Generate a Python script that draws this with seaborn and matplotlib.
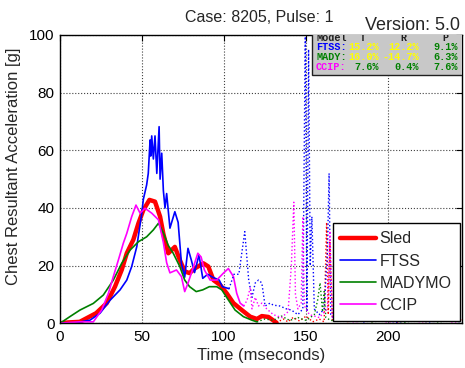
import numpy as np
import pandas as pd
import matplotlib
matplotlib.use("Agg")
import matplotlib.pyplot as plt
from matplotlib.lines import Line2D
from matplotlib.patches import Rectangle
import seaborn as sns

# Sled (test) curve
sled_t = [0, 5, 12, 16, 22, 28.5, 33.5, 37.6, 40.7, 44.7, 47.8, 50.8, 54.5, 57.9, 61, 63,
          66, 70, 73, 76, 79, 82, 87.4, 90.4, 93.5, 97.6, 101.6, 105.7, 110.8, 115.9, 120,
          123, 127, 132]
sled_g = [0, 0.3, 0.5, 1.7, 3.5, 7, 12.7, 18.5, 24.3, 29, 34.7, 39.3, 42.8, 42.2, 37, 31,
          24.3, 26.5, 22, 18, 17.4, 19, 20.8, 19.7, 15, 13.3, 10.4, 7, 4.6, 2.3, 1.5,
          2.5, 2.2, 0.2]
sled_tail_t = [132, 136, 139, 142, 146, 150, 154, 158, 161, 162.5, 163.5, 164.5, 166, 170,
               176, 182, 190, 198, 206, 214, 222, 230, 238, 245]
sled_tail_g = [0.2, 1.5, 0.5, 2.0, 0.8, 2.5, 0.5, 1.5, 0.5, 35, 3, 28, 0.5, 1.5,
               0.5, 1.8, 0.6, 1.5, 0.4, 1.6, 0.5, 1.4, 0.6, 1.2]

# FTSS model
ftss_t = [0, 10, 18.3, 24.4, 30.5, 36.6, 40.7, 43.7, 46.8, 49.8, 50.8, 52.8, 53.8, 54.9,
          55.3, 55.9, 56.9, 57.9, 59, 60.4, 61, 62, 63, 64, 65, 67, 70, 72, 74, 76, 78,
          80, 82, 84.7, 87, 90, 93, 97, 99, 103]
ftss_g = [0, 0.2, 1.1, 3.5, 8, 11.6, 15, 19.7, 26.6, 38, 43, 48, 52, 63.6, 58, 65, 57,
          65, 52, 68.2, 50, 59, 46, 40, 45, 33, 38.7, 35, 20.8, 16, 26, 22, 17.6, 23.7,
          15.6, 17, 16, 15, 12.7, 12]
ftss_tail_t = [103, 106, 109, 112.6, 114, 115, 117, 119, 121, 123, 125, 128, 130, 134,
               138, 141, 145, 148, 149.5, 150.5, 151.5, 152.5, 153.5, 155, 158, 161, 163,
               164, 165, 168, 175, 185, 195, 205, 215, 225, 235, 245]
ftss_tail_g = [12, 17, 17, 31.8, 22, 15, 9, 14, 15, 14, 6, 7, 6.3, 6, 5, 4.6, 3, 5,
               102, 4, 95, 20, 37, 5, 3, 5, 25, 52, 3, 1, 1.5, 0.5, 1.2, 0.4, 1.0, 0.5,
               1.1, 0.5]

# MADYMO model
mady_t = [0, 6, 12.2, 20.3, 26.4, 32.5, 37.6, 42.7, 47.8, 52.8, 56.9, 60, 63, 66, 69, 73,
          76, 79, 83, 87, 91, 95.5, 98.6, 102.6, 106.7, 111.8, 116.9, 120]
mady_g = [0, 2.3, 4.6, 6.9, 9.8, 15, 20.8, 25.4, 28.3, 30, 32.4, 34.7, 31.4, 27, 24.3,
          19.7, 15, 12.7, 11, 11.6, 12.7, 12.7, 11.6, 8.1, 4.6, 2.3, 1.1, 0.5]
mady_tail_t = [120, 125, 130, 135, 140, 145, 150, 155, 157, 158.5, 160, 161, 162, 165,
               172, 180, 190, 200, 210, 220, 230, 240, 245]
mady_tail_g = [0.5, 1.5, 1, 2.5, 1, 2, 1, 3, 8, 14, 4, 11, 2, 1, 0.8, 1.5, 0.5, 1.2,
               0.4, 1.3, 0.5, 1.0, 0.5]

# CCIP model
ccip_t = [0, 6, 12, 20.3, 25.4, 29.5, 32.5, 35.6, 38.6, 40.7, 43.7, 46.3, 48.8, 51.8,
          55.9, 60, 63, 65, 67, 71, 74, 76, 78, 81, 84, 86, 88, 91.5, 95.5, 99.6, 102.6,
          105.7, 107.7, 109.8, 112]
ccip_g = [0, 0.3, 0.5, 0.5, 4.6, 10.4, 16.2, 22, 27.8, 31.2, 37, 41, 38.2, 39.9, 38.2,
          35.9, 28, 21, 17.5, 18.5, 16.2, 11, 13.9, 19, 24.3, 23, 18.5, 15, 15, 17.4, 19,
          16.2, 10.4, 7, 6]
ccip_tail_t = [112, 114, 116, 117, 119, 121, 123, 126, 130, 135, 139, 141, 142.5, 143.5,
               145, 147, 148, 149, 152, 158, 163, 164.5, 166, 170, 180, 190, 200, 210,
               220, 230, 240, 245]
ccip_tail_g = [6, 8, 12.5, 5, 9, 6, 7, 5, 3, 2, 4, 20, 42, 10, 5, 7, 37, 6, 3, 2, 5,
               32, 2, 1, 0.5, 1.2, 0.4, 1.1, 0.5, 1.3, 0.4, 0.8]

models = ["FTSS", "MADY", "CCIP"]
table_T = [15.2, 16.0, 7.6]
table_R = [12.2, -14.7, 0.4]
table_P = [9.1, 6.3, 7.6]

colors = {"Sled": "#ff0000", "FTSS": "#0000ff", "MADYMO": "#008000", "CCIP": "#ff00ff"}

sns.set_style("white")
plt.rcParams["font.family"] = ["Liberation Sans", "DejaVu Sans"]

W, H = 465, 368
L, R, T, B = 60, 462, 35, 323.3
fig = plt.figure(figsize=(W / 100, H / 100), dpi=100)
ax = fig.add_axes([L / W, (H - B) / H, (R - L) / W, (B - T) / H])

series = [
    ("Sled", sled_t, sled_g, sled_tail_t, sled_tail_g, 3.2),
    ("FTSS", ftss_t, ftss_g, ftss_tail_t, ftss_tail_g, 1.2),
    ("MADYMO", mady_t, mady_g, mady_tail_t, mady_tail_g, 1.2),
    ("CCIP", ccip_t, ccip_g, ccip_tail_t, ccip_tail_g, 1.2),
]
for name, t, g, tt, tg, lw in series:
    sns.lineplot(x=t, y=g, ax=ax, color=colors[name], linewidth=lw,
                 estimator=None, sort=False, legend=False)
for name, t, g, tt, tg, lw in series:
    sns.lineplot(x=tt, y=tg, ax=ax, color=colors[name], linewidth=1.0, linestyle=":",
                 estimator=None, sort=False, legend=False)

ax.set_xlim(0, 245)
ax.set_ylim(0, 100)
ax.set_xticks([0, 50, 100, 150, 200])
ax.set_yticks([0, 20, 40, 60, 80, 100])
ax.grid(True, linestyle=":", color="0.25", linewidth=0.8)
ax.tick_params(direction="in", length=4, width=0.8, labelsize=11, top=True, right=True,
               colors="black")
ax.tick_params(axis="x", pad=5)
ax.tick_params(axis="y", pad=4)
for sp in ax.spines.values():
    sp.set_color("black")
    sp.set_linewidth(1.0)
ax.set_xlabel("Time (mseconds)", fontsize=12, labelpad=3)
ax.set_ylabel("")
fig.text(14 / W, 1 - 166 / H, "Chest Resultant Acceleration [g]", rotation=90,
         ha="center", va="center", fontsize=12)
fig.text(259 / W, 1 - 17.5 / H, "Case: 8205, Pulse: 1", ha="center", va="center",
         fontsize=11.5)
fig.text(460 / W, 1 - 26 / H, "Version: 5.0", ha="right", va="center", fontsize=13)

# stats table box
def ax_xy(px, py):
    return (px - L) / (R - L), (B - py) / (B - T)

x0, y0 = ax_xy(312, 74.7)
ax.add_patch(Rectangle((x0, y0), 1 - x0 + 0.01, 1 - y0 + 0.01, transform=ax.transAxes,
                       facecolor="#c8c8c8", edgecolor="#202020", linewidth=1.0,
                       zorder=5, clip_on=True))
mono = dict(family="Liberation Mono", fontweight="bold", fontsize=7.3, zorder=6,
            va="center", transform=ax.transAxes, clip_on=True)
hx, hy = ax_xy(316, 38)
ax.text(hx, hy, "Model", color="#202020", ha="left", **mono)
for px, lab in [(363, "T"), (403, "R"), (445, "P")]:
    ax.text(ax_xy(px, 38)[0], hy, lab, color="#202020", ha="center", **mono)
name_cols = {"FTSS": "#0000ff", "MADY": "#008000", "CCIP": "#ff00ff"}
for i, m in enumerate(models):
    py = 47.5 + 10 * i
    yy = ax_xy(0, py)[1]
    ax.text(ax_xy(316, py)[0], yy, m + ":", color=name_cols[m], ha="left", **mono)
    for val, px in [(table_T[i], 379), (table_R[i], 419), (table_P[i], 458)]:
        c = "#ffff00" if abs(val) > 10 else "#008000"
        ax.text(ax_xy(px, py)[0], yy, f"{val:.1f}%", color=c, ha="right", **mono)

handles = [Line2D([], [], color=colors[n], linewidth=(3.2 if n == "Sled" else 1.2))
           for n in ["Sled", "FTSS", "MADYMO", "CCIP"]]
leg = ax.legend(handles, ["Sled", "FTSS", "MADYMO", "CCIP"], loc="lower right",
                fontsize=11.5, frameon=True, fancybox=False, framealpha=1,
                edgecolor="black", handlelength=2.2, handletextpad=0.25,
                labelspacing=0.45, borderpad=0.5, borderaxespad=0.15)
leg.get_frame().set_linewidth(1.0)
leg.set_zorder(7)

fig.savefig("out.png", dpi=100)
